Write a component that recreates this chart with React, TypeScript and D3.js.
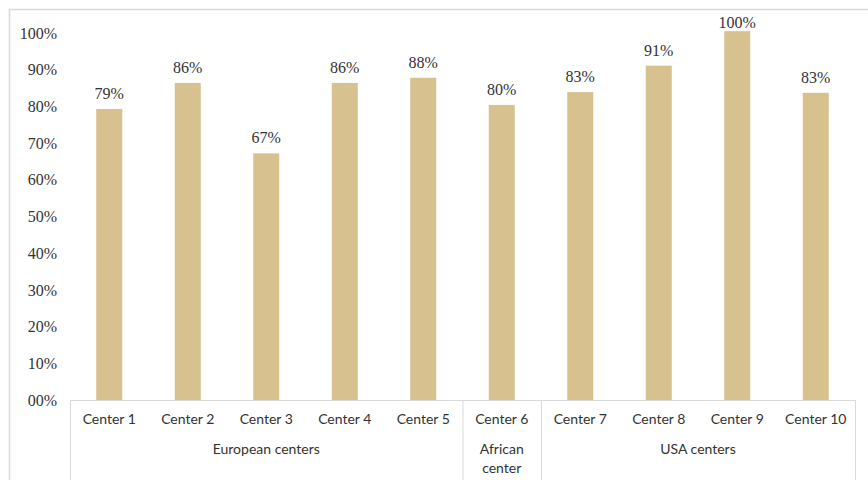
import React from "react";
import * as d3 from "d3";

const categories = ["Center 1", "Center 2", "Center 3", "Center 4", "Center 5", "Center 6", "Center 7", "Center 8", "Center 9", "Center 10"];
const values = [79.3, 86.4, 67.2, 86.4, 87.8, 80.4, 83.9, 91.1, 100.5, 83.7];
const valueLabels = ["79%", "86%", "67%", "86%", "88%", "80%", "83%", "91%", "100%", "83%"];
const groups = [
  { lines: ["European centers"], start: 0, end: 5 },
  { lines: ["African", "center"], start: 5, end: 6 },
  { lines: ["USA centers"], start: 6, end: 10 },
];
const yTicks = [0, 10, 20, 30, 40, 50, 60, 70, 80, 90, 100];
const yTickLabels = ["00%", "10%", "20%", "30%", "40%", "50%", "60%", "70%", "80%", "90%", "100%"];

const W = 868;
const H = 480;
const left = 70;
const right = 855;
const top = 33;
const bottom = 400;

export default function App() {
  const x = d3.scaleBand<number>().domain(d3.range(categories.length)).range([left, right]).paddingInner(0).paddingOuter(0);
  const y = d3.scaleLinear().domain([0, 100]).range([bottom, top]);
  const bw = 26;
  const serif = "'Liberation Serif', 'Times New Roman', serif";
  const sans = "Lato, 'Open Sans', sans-serif";
  const gridColor = "#d9d9d9";
  return (
    <svg width={W} height={H} style={{ position: "absolute", left: 0, top: 0, background: "#fff" }}>
      <line x1={9} y1={9.5} x2={W} y2={9.5} stroke={gridColor} strokeWidth={1.5} />
      <line x1={9.5} y1={9} x2={9.5} y2={H} stroke={gridColor} strokeWidth={1.5} />
      {yTicks.map((t, i) => (
        <text key={t} x={57} y={y(t)} dy="0.35em" textAnchor="end" fontFamily={serif} fontSize={16} fill="#333">
          {yTickLabels[i]}
        </text>
      ))}
      {values.map((v, i) => {
        const cx = (x(i) as number) + x.bandwidth() / 2;
        return (
          <g key={i}>
            <rect x={cx - bw / 2} y={y(v)} width={bw} height={bottom - y(v)} fill="#d6c18f" />
            <text x={cx} y={Math.max(y(v) - 10, 28)} textAnchor="middle" fontFamily={serif} fontSize={16} fill="#333">
              {valueLabels[i]}
            </text>
            <text x={cx} y={419} dy="0.35em" textAnchor="middle" fontFamily={sans} fontSize={14} fill="#333">
              {categories[i]}
            </text>
          </g>
        );
      })}
      <line x1={left} y1={bottom + 0.5} x2={right} y2={bottom + 0.5} stroke={gridColor} strokeWidth={1} />
      {[0, 5, 6, 10].map((b) => {
        const xx = b === categories.length ? right : (x(b) as number);
        return <line key={b} x1={xx + 0.5} y1={bottom} x2={xx + 0.5} y2={H} stroke={gridColor} strokeWidth={1} />;
      })}
      {groups.map((g, gi) => {
        const x0 = x(g.start) as number;
        const x1 = g.end === categories.length ? right : (x(g.end) as number);
        const cx = (x0 + x1) / 2;
        return g.lines.map((ln, li) => (
          <text key={gi + "-" + li} x={cx} y={449 + li * 19} dy="0.35em" textAnchor="middle" fontFamily={sans} fontSize={14} fill="#333">
            {ln}
          </text>
        ));
      })}
    </svg>
  );
}
